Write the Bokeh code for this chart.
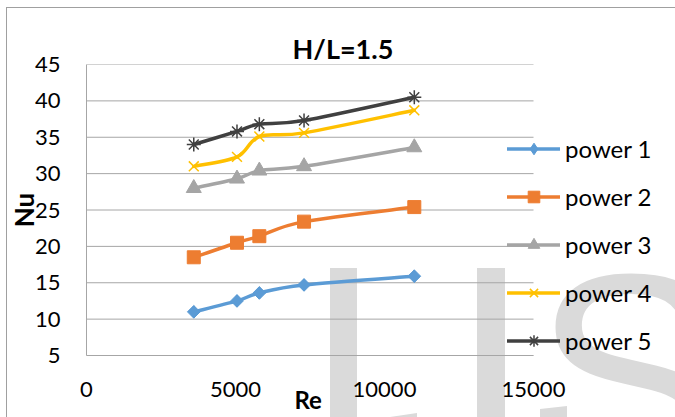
import math
from urllib.parse import quote

from bokeh.plotting import figure
from bokeh.models import Range1d, FixedTicker, Legend, LegendItem
from bokeh.embed import file_html
from bokeh.resources import INLINE

# Reynolds numbers shared by every series
re_vals = [3600, 5050, 5800, 7300, 11000]

# Nusselt number for each heating power
power_1 = [11.0, 12.5, 13.6, 14.7, 15.9]
power_2 = [18.5, 20.5, 21.4, 23.4, 25.4]
power_3 = [28.0, 29.3, 30.4, 31.0, 33.6]
power_4 = [31.0, 32.3, 35.1, 35.6, 38.7]
power_5 = [34.0, 35.8, 36.8, 37.3, 40.5]

series_names = ["power 1", "power 2", "power 3", "power 4", "power 5"]
series_values = [power_1, power_2, power_3, power_4, power_5]
series_colors = ["#5b9bd5", "#ed7d31", "#a5a5a5", "#ffc000", "#404040"]

x_ticks = [0, 5000, 10000, 15000]
y_ticks = [5, 10, 15, 20, 25, 30, 35, 40, 45]

FONT = "Lato"
GRID = "#a6a6a6"

# pixel layout: plotting frame starts 86 px from the left; the value axis
# spans 447 px, the remaining 142 px on the right hold the legend
PLOT_W, LEFT, AXIS_PX = 675, 86, 447


def smooth_segments(xs, ys, k=1.0 / 6.0):
    """Cubic Bezier pieces through the points (Catmull-Rom style tangents)."""
    n = len(xs)
    seg = dict(x0=[], y0=[], x1=[], y1=[], cx0=[], cy0=[], cx1=[], cy1=[])
    for i in range(n - 1):
        xp, yp = (xs[i - 1], ys[i - 1]) if i > 0 else (xs[i], ys[i])
        xn, yn = (xs[i + 2], ys[i + 2]) if i + 2 < n else (xs[i + 1], ys[i + 1])
        seg["x0"].append(xs[i])
        seg["y0"].append(ys[i])
        seg["x1"].append(xs[i + 1])
        seg["y1"].append(ys[i + 1])
        seg["cx0"].append(xs[i] + (xs[i + 1] - xp) * k)
        seg["cy0"].append(ys[i] + (ys[i + 1] - yp) * k)
        seg["cx1"].append(xs[i + 1] - (xn - xs[i]) * k)
        seg["cy1"].append(ys[i + 1] - (yn - ys[i]) * k)
    return seg


# page backdrop: chart-area border and the faint lettering behind the chart
backdrop = (
    "<svg xmlns='http://www.w3.org/2000/svg' width='675' height='417'>"
    "<rect x='6.5' y='7.5' width='720' height='450' fill='none' stroke='#a0a0a0'/>"
    "<rect x='330' y='268' width='27' height='160' fill='#dadada'/>"
    "<rect x='477' y='268' width='28' height='160' fill='#dadada'/>"
    "<polygon points='390,417 417,413 417,420 390,420' fill='#dadada'/>"
    "<polygon points='540,409 567,406 567,420 540,420' fill='#dadada'/>"
    "<text x='533' y='476' font-family='Liberation Sans' font-size='290' "
    "fill='#dadada'>S</text>"
    "</svg>"
)

x_end = x_ticks[-1] * (PLOT_W - LEFT) / AXIS_PX

p = figure(width=PLOT_W, height=417,
           x_range=Range1d(0, x_end), y_range=Range1d(5, 45),
           output_backend="svg", toolbar_location=None,
           min_border_left=LEFT, min_border_right=0,
           min_border_top=64, min_border_bottom=62)
p.background_fill_alpha = 0
p.border_fill_alpha = 0
p.outline_line_color = None
p.styles = {
    "background-color": "white",
    "background-image": 'url("data:image/svg+xml,' + quote(backdrop) + '")',
    "background-repeat": "no-repeat",
}

# title
p.title.text = "H/L=1.5"
p.title.align = "left"
p.title.offset = 206
p.title.standoff = 0
p.title.text_font = FONT
p.title.text_font_style = "bold"
p.title.text_font_size = "27px"
p.title.text_color = "black"

# axes
for ax in (p.xaxis[0], p.yaxis[0]):
    ax.major_tick_in = 0
    ax.major_tick_out = 0
    ax.minor_tick_in = 0
    ax.minor_tick_out = 0
    ax.axis_line_color = GRID
    ax.axis_line_width = 1
    ax.major_label_text_font = FONT
    ax.major_label_text_font_size = "22px"
    ax.major_label_text_color = "black"
    ax.axis_label_text_font = FONT
    ax.axis_label_text_font_style = "bold"
    ax.axis_label_text_color = "black"

p.xaxis.ticker = FixedTicker(ticks=x_ticks)
p.yaxis.ticker = FixedTicker(ticks=y_ticks)
p.xaxis.bounds = (x_ticks[0], x_ticks[-1])
# the axis title is centred on the whole frame (which also holds the legend);
# trailing no-break spaces pull "Re" back under the middle of the value range
p.xaxis.axis_label = "Re" + "\u00a0" * 25
p.yaxis.axis_label = "Nu"
p.xaxis.axis_label_text_font_size = "24px"
p.yaxis.axis_label_text_font_size = "26px"
p.xaxis.major_label_standoff = 26
p.yaxis.major_label_standoff = 26
p.xaxis.axis_label_standoff = -15
p.yaxis.axis_label_standoff = -8

# horizontal gridlines across the value range only
p.xgrid.visible = False
p.ygrid.visible = False
p.segment(x0=x_ticks[0], x1=x_ticks[-1], y0=y_ticks, y1=y_ticks,
          line_color=GRID, line_width=1)

# series
items = []
for name, vals, col in zip(series_names, series_values, series_colors):
    seg = smooth_segments(re_vals, vals)
    r_line = p.bezier(x0="x0", y0="y0", x1="x1", y1="y1",
                      cx0="cx0", cy0="cy0", cx1="cx1", cy1="cy1",
                      source=seg, line_color=col, line_width=3.5,
                      line_cap="round")
    rends = [r_line]
    if name == "power 1":
        # diamond key for the legend, rotated squares on the curve
        rends.append(p.scatter(re_vals, vals, marker="diamond", size=12,
                               fill_color=col, line_color=col))
        p.scatter(re_vals, vals, marker="square", size=9,
                  angle=math.pi / 4, fill_color=col, line_color=col)
    elif name == "power 2":
        rends.append(p.scatter(re_vals, vals, marker="square", size=13,
                               fill_color=col, line_color=col))
    elif name == "power 3":
        rends.append(p.scatter(re_vals, vals, marker="triangle", size=15,
                               fill_color=col, line_color=col))
    elif name == "power 4":
        rends.append(p.scatter(re_vals, vals, marker="x", size=14,
                               line_color=col, line_width=1.5))
    else:
        rends.append(p.scatter(re_vals, vals, marker="asterisk", size=14,
                               line_color=col, line_width=1.5))
    items.append(LegendItem(label=name, renderers=rends))

legend = Legend(items=items, location=(421, 0), orientation="vertical",
                glyph_width=53, glyph_height=29, label_height=29,
                label_standoff=5, spacing=19, padding=0, margin=0,
                border_line_color=None, background_fill_alpha=0,
                label_text_font=FONT, label_text_font_size="24px",
                label_text_color="black")
p.add_layout(legend, "center")

open("out.html", "w").write(file_html(p, INLINE))
